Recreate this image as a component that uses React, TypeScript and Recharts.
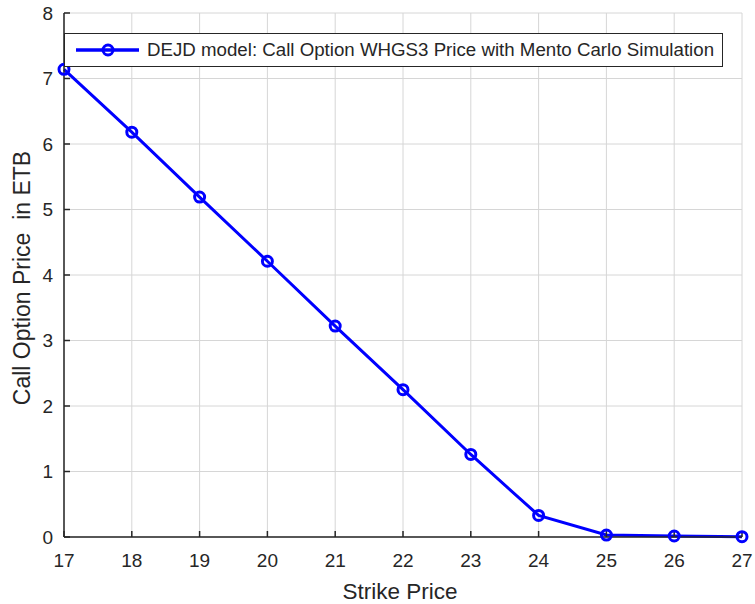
import React from 'react';
import {
  LineChart,
  Line,
  XAxis,
  YAxis,
  CartesianGrid,
  Legend,
} from 'recharts';

// Strike prices (x) and simulated call option prices (y)
const strikes = [17, 18, 19, 20, 21, 22, 23, 24, 25, 26, 27];
const callPrices = [7.14, 6.18, 5.19, 4.21, 3.22, 2.25, 1.26, 0.33, 0.03, 0.015, 0.005];

const xTicks = [17, 18, 19, 20, 21, 22, 23, 24, 25, 26, 27];
const yTicks = [0, 1, 2, 3, 4, 5, 6, 7, 8];

const seriesName = 'DEJD model: Call Option WHGS3 Price with Mento Carlo Simulation';
const xTitle = 'Strike Price';
const yTitle = 'Call Option Price  in ETB';

const data = strikes.map((k, i) => ({ strike: k, price: callPrices[i] }));

const FONT = '"Liberation Sans", Arial, Helvetica, sans-serif';
const INK = '#262626';
const BLUE = '#0000ff';

const RingDot = (props: any) => {
  const { cx, cy, index } = props;
  if (cx == null || cy == null) return null;
  return (
    <circle
      key={`dot-${index}`}
      cx={cx}
      cy={cy}
      r={5}
      fill="none"
      stroke={BLUE}
      strokeWidth={3}
    />
  );
};

const LegendBox = () => (
  <div
    style={{
      boxSizing: 'border-box',
      width: '100%',
      height: '100%',
      border: `1.5px solid ${INK}`,
      background: '#ffffff',
      position: 'relative',
      fontFamily: FONT,
    }}
  >
    <svg width={70} height={32} style={{ position: 'absolute', left: 10, top: 0 }}>
      <line x1={1} y1={16} x2={64} y2={16} stroke={BLUE} strokeWidth={3.5} />
      <circle cx={33} cy={16} r={5} fill="none" stroke={BLUE} strokeWidth={3} />
    </svg>
    <span
      style={{
        position: 'absolute',
        left: 82,
        top: 0,
        lineHeight: '32px',
        fontSize: 18.7,
        color: INK,
        whiteSpace: 'nowrap',
      }}
    >
      {seriesName}
    </span>
  </div>
);

export default function App() {
  return (
    <div style={{ position: 'absolute', left: 0, top: 0, width: 755, height: 604, background: '#fff' }}>
      <LineChart
        width={755}
        height={604}
        data={data}
        margin={{ top: 13, right: 13, bottom: 0, left: 0 }}
        style={{ fontFamily: FONT }}
      >
        <CartesianGrid stroke="#d6d6d6" strokeWidth={1} />
        <XAxis
          dataKey="strike"
          type="number"
          domain={[17, 27]}
          ticks={xTicks}
          interval={0}
          height={67}
          stroke={INK}
          strokeWidth={1.5}
          tickSize={-6}
          tickMargin={23}
          tick={{ fill: INK, fontSize: 19, fontFamily: FONT }}
          label={{
            content: (p: any) => {
              const vb = p.viewBox || { x: 64, width: 678 };
              return (
                <text
                  x={vb.x + vb.width / 2 - 3}
                  y={599}
                  textAnchor="middle"
                  fill={INK}
                  fontSize={22.5}
                  fontFamily={FONT}
                >
                  {xTitle}
                </text>
              );
            },
          }}
        />
        <XAxis
          xAxisId="top"
          orientation="top"
          type="number"
          domain={[17, 27]}
          ticks={xTicks}
          interval={0}
          height={0}
          mirror
          stroke={INK}
          strokeWidth={1.5}
          tickSize={6}
          tick={false}
        />
        <YAxis
          type="number"
          domain={[0, 8]}
          ticks={yTicks}
          interval={0}
          width={64}
          stroke={INK}
          strokeWidth={1.5}
          tickSize={-6}
          tickMargin={17}
          tick={{ fill: INK, fontSize: 19, fontFamily: FONT }}
          label={{
            content: () => (
              <text
                x={22}
                y={278}
                transform="rotate(-90 22 278)"
                textAnchor="middle"
                dominantBaseline="central"
                fill={INK}
                fontSize={23}
                fontFamily={FONT}
                style={{ whiteSpace: 'pre' }}
              >
                {yTitle}
              </text>
            ),
          }}
        />
        <YAxis
          yAxisId="right"
          orientation="right"
          type="number"
          domain={[0, 8]}
          ticks={yTicks}
          interval={0}
          width={0}
          mirror
          stroke={INK}
          strokeWidth={1.5}
          tickSize={6}
          tick={false}
        />
        <Legend
          layout="horizontal"
          verticalAlign="middle"
          align="center"
          wrapperStyle={{ position: 'absolute', left: 64, top: 33, width: 659, height: 34 }}
          content={() => <LegendBox />}
        />
        <Line
          type="linear"
          dataKey="price"
          name={seriesName}
          stroke={BLUE}
          strokeWidth={3}
          dot={RingDot}
          activeDot={false}
          isAnimationActive={false}
        />
      </LineChart>
    </div>
  );
}
